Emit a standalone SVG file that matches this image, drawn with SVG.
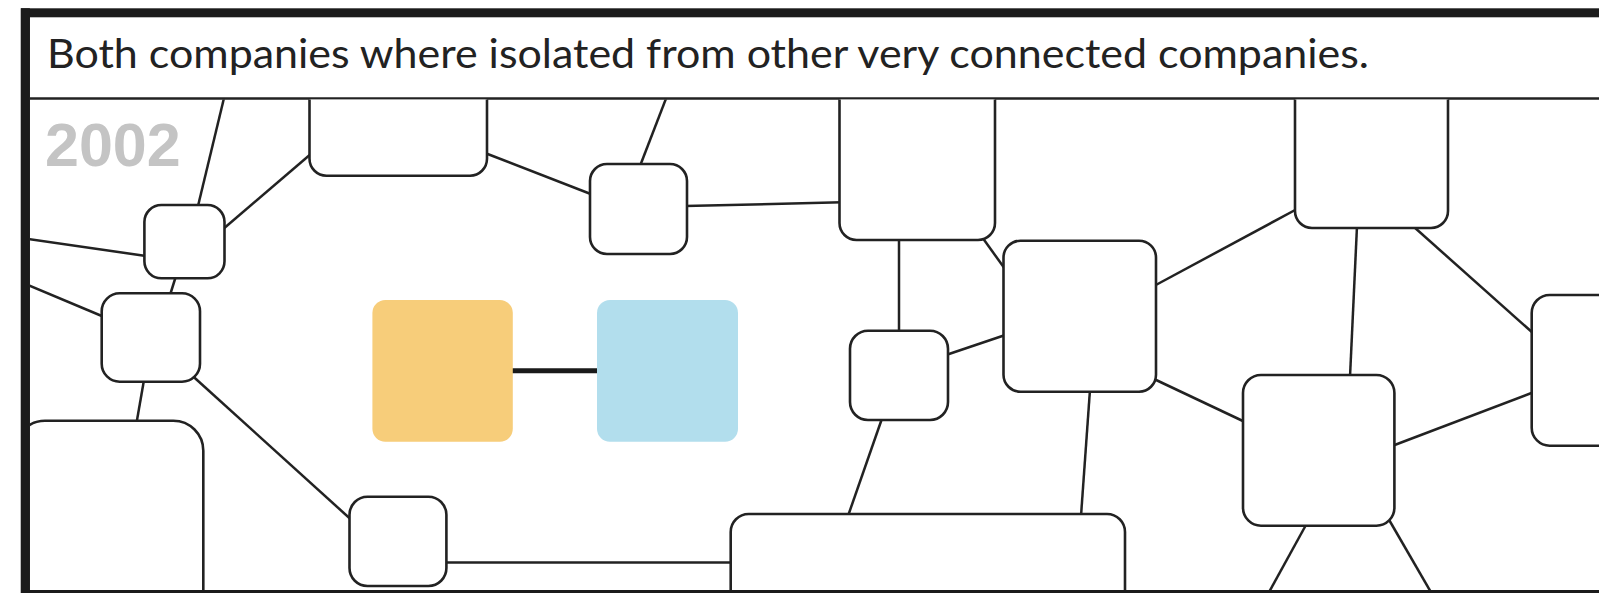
<svg xmlns="http://www.w3.org/2000/svg" width="1599" height="593" viewBox="0 0 1599 593">
  <defs>
    <clipPath id="content">
      <rect x="30" y="99.5" width="1569" height="490.5"/>
    </clipPath>
  </defs>
  <style>
    .edge { stroke: #222; stroke-width: 2.5; fill: none; stroke-linecap: butt; }
    .strong { stroke: #1a1a1a; stroke-width: 5; }
    .node { fill: #fff; stroke: #222; stroke-width: 2.6; }
    .title { font-family: Lato, "Noto Sans", "Liberation Sans", sans-serif; font-size: 40px; fill: #222; }
    .year { font-family: "Liberation Sans", Arial, sans-serif; font-weight: bold; font-size: 61px; fill: #c4c4c4; }
  </style>
  <rect x="0" y="0" width="1599" height="593" fill="#fff"/>
  <g id="frame">
    <rect x="25.35" y="12.8" width="1700" height="581.7" fill="#fff" stroke="#1b1b1b" stroke-width="9"/>
    <line x1="30" y1="98.5" x2="1599" y2="98.5" stroke="#222" stroke-width="2.5"/>
  </g>
  <text class="title" x="47" y="68.3" textLength="1322" lengthAdjust="spacingAndGlyphs">Both companies where isolated from other very connected companies.</text>
  <text class="year" x="45" y="166">2002</text>
  <g clip-path="url(#content)">
    <g id="connectors">
      <line class="edge" x1="198" y1="206" x2="224.5" y2="96"/>
      <line class="edge" x1="222" y1="230" x2="312" y2="153"/>
      <line class="edge" x1="28" y1="239" x2="146" y2="256"/>
      <line class="edge" x1="485" y1="153" x2="592" y2="194.5"/>
      <line class="edge" x1="640" y1="166" x2="667" y2="96"/>
      <line class="edge" x1="685" y1="206" x2="842" y2="202.3"/>
      <line class="edge" x1="176" y1="276" x2="170" y2="295"/>
      <line class="edge" x1="28" y1="285" x2="103" y2="316.5"/>
      <line class="edge" x1="144" y1="380" x2="136.5" y2="423"/>
      <line class="edge" x1="191.5" y1="375" x2="351" y2="519.5"/>
      <line class="strong" x1="510" y1="370.7" x2="600" y2="370.7"/>
      <line class="edge" x1="444" y1="562.5" x2="733" y2="562.5"/>
      <line class="edge" x1="899" y1="238" x2="899" y2="333"/>
      <line class="edge" x1="982" y1="237" x2="1005" y2="269"/>
      <line class="edge" x1="946" y1="355" x2="1006" y2="334.7"/>
      <line class="edge" x1="882" y1="418.5" x2="848" y2="516"/>
      <line class="edge" x1="1090" y1="389.5" x2="1081" y2="516"/>
      <line class="edge" x1="1154" y1="286" x2="1297" y2="209"/>
      <line class="edge" x1="1154" y1="379" x2="1245" y2="422"/>
      <line class="edge" x1="1357" y1="226" x2="1350" y2="377"/>
      <line class="edge" x1="1414" y1="227" x2="1533.5" y2="333.5"/>
      <line class="edge" x1="1392" y1="446" x2="1534" y2="392"/>
      <line class="edge" x1="1306.5" y1="524" x2="1268" y2="594"/>
      <line class="edge" x1="1388" y1="518" x2="1432" y2="594"/>
    </g>
    <g id="node-a"><rect class="node" x="309.5" y="40" width="177.5" height="135.7" rx="17"/></g>
    <g id="node-b"><rect class="node" x="144.4" y="205" width="80.1" height="73.3" rx="17"/></g>
    <g id="node-c"><rect class="node" x="590" y="164" width="97" height="90" rx="17"/></g>
    <g id="node-d"><rect class="node" x="839.5" y="40" width="155.5" height="200" rx="17"/></g>
    <g id="node-e"><rect class="node" x="101.7" y="293.3" width="98.3" height="88.4" rx="18"/></g>
    <g id="node-f"><rect class="node" x="1295" y="40" width="153" height="188" rx="17"/></g>
    <g id="node-g"><rect class="node" x="1003.5" y="240.7" width="152.5" height="151" rx="17"/></g>
    <g id="node-h"><rect class="node" x="1531.7" y="295" width="180" height="150.7" rx="18"/></g>
    <g id="node-i"><rect class="node" x="15" y="420.7" width="188.3" height="260" rx="30"/></g>
    <g id="node-j"><rect class="node" x="349.5" y="496.7" width="96.9" height="89.3" rx="18"/></g>
    <g id="node-k"><rect class="node" x="730.7" y="514" width="394.3" height="150" rx="18"/></g>
    <g id="node-l"><rect class="node" x="850" y="330.7" width="98" height="89.3" rx="18"/></g>
    <g id="node-m"><rect class="node" x="1243" y="375" width="151.4" height="150.7" rx="18"/></g>
    <g id="node-orange"><rect x="372.4" y="300" width="140.4" height="141.7" rx="13" fill="#f7cd7a"/></g>
    <g id="node-blue"><rect x="597" y="300" width="141" height="141.7" rx="13" fill="#b2deed"/></g>
  </g>
  <line x1="25.35" y1="8.3" x2="25.35" y2="593" stroke="#1b1b1b" stroke-width="9"/>
</svg>
